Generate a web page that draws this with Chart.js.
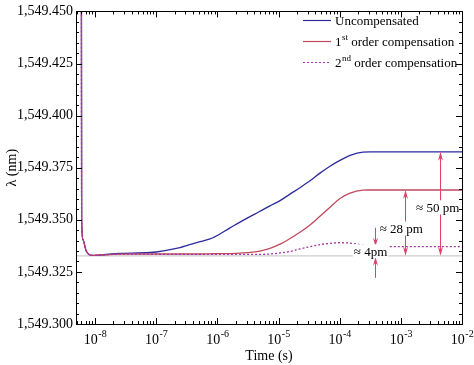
<!DOCTYPE html>
<html>
<head>
<meta charset="utf-8">
<script src="https://cdn.jsdelivr.net/npm/chart.js@4.4.1/dist/chart.umd.min.js"></script>
<style>
  html, body { margin: 0; padding: 0; background: #fff; }
  #wrap { width: 474px; height: 365px; }
</style>
</head>
<body>
<div id="wrap"><canvas id="chart" width="474" height="365"></canvas></div>
<script>
// time axis (s) shared by the three curves
const timeS = [5.9e-9, 6.05e-9, 6.37e-9, 7.13e-9, 8.93e-9, 1.21e-8, 2.57e-8, 7.93e-8, 2.45e-7, 5.21e-7,
  8.5e-7, 1.61e-6, 2.35e-6, 4.98e-6, 7.26e-6, 1.06e-5, 1.54e-5, 2.24e-5, 3.27e-5, 4.76e-5,
  6.95e-5, 1.01e-4, 1.48e-4, 2.4e-4, 3.13e-4, 1e-3, 1e-2];

const uncompensated = [1549.70, 1549.350, 1549.3404, 1549.3353, 1549.3329, 1549.3331, 1549.3339, 1549.3343, 1549.3367, 1549.3395,
  1549.3414, 1549.3461, 1549.3489, 1549.3541, 1549.3567, 1549.3592, 1549.3623, 1549.3654, 1549.3687, 1549.3724,
  1549.3757, 1549.3785, 1549.3809, 1549.3825, 1549.3826, 1549.3826, 1549.3826];

const firstOrder = [1549.70, 1549.350, 1549.3404, 1549.3353, 1549.3329, 1549.3331, 1549.3335, 1549.3336, 1549.3336, 1549.3336,
  1549.3337, 1549.3338, 1549.3340, 1549.3350, 1549.3363, 1549.3383, 1549.3410, 1549.3440, 1549.3475, 1549.3517,
  1549.3560, 1549.3602, 1549.3628, 1549.3642, 1549.3643, 1549.3643, 1549.3643];

const secondOrder = [1549.70, 1549.350, 1549.3404, 1549.3353, 1549.3329, 1549.3331, 1549.3335, 1549.3335, 1549.3334, 1549.3334,
  1549.3334, 1549.3334, 1549.3334, 1549.3334, 1549.3336, 1549.3341, 1549.3348, 1549.3360, 1549.3371, 1549.3381,
  1549.3387, 1549.3390, 1549.3388, 1549.3379, 1549.3374, 1549.3371, 1549.3371];

const baselineTime = [4.89e-9, 1e-2];
const baselineLambda = [1549.3327, 1549.3327];

const yTicks = [1549.300, 1549.325, 1549.350, 1549.375, 1549.400, 1549.425, 1549.450];
const xExponents = [-8, -7, -6, -5, -4, -3, -2];

const legendLabels = [
  { main: '', sup: '', rest: 'Uncompensated' },
  { main: '1', sup: 'st', rest: ' order compensation' },
  { main: '2', sup: 'nd', rest: ' order compensation' }
];

// difference markers drawn over the plot
const deltaMarks = [
  { t: 4.37e-3, top: 1549.3826, bottom: 1549.3327, text: '\u2248 50 pm', tx: 4.0e-3, ty: 1549.356 },
  { t: 1.17e-3, top: 1549.3643, bottom: 1549.3327, text: '\u2248 28 pm', tx: 1.02e-3, ty: 1549.3458 }
];

const SERIF = '"Liberation Serif", "DejaVu Serif", serif';
const ARROW = '#e0406a';

function toPoints(xs, ys) {
  return xs.map((x, i) => ({ x: x, y: ys[i] }));
}

function arrowHead(ctx, x, y, dir) {
  // dir = -1 points up, 1 points down
  ctx.beginPath();
  ctx.moveTo(x, y);
  ctx.lineTo(x - 2.5, y - dir * 9);
  ctx.lineTo(x, y - dir * 6);
  ctx.lineTo(x + 2.5, y - dir * 9);
  ctx.closePath();
  ctx.fill();
}

function labelBox(ctx, text, x, y) {
  ctx.font = '13px ' + SERIF;
  const w = ctx.measureText(text).width;
  ctx.fillStyle = '#fff';
  ctx.fillRect(x - w / 2 - 1, y - 7, w + 2, 14);
  ctx.fillStyle = '#000';
  ctx.textAlign = 'center';
  ctx.textBaseline = 'middle';
  ctx.fillText(text, x, y + 1);
}

const decorations = {
  id: 'decorations',
  afterDatasetsDraw(chart) {
    const ctx = chart.ctx;
    const area = chart.chartArea;
    const xs = chart.scales.x;
    const ys = chart.scales.y;
    ctx.save();

    // arrows
    ctx.strokeStyle = ARROW;
    ctx.fillStyle = ARROW;
    ctx.lineWidth = 1;
    deltaMarks.forEach(m => {
      const x = Math.round(xs.getPixelForValue(m.t)) + 0.5;
      const y1 = ys.getPixelForValue(m.top);
      const y2 = ys.getPixelForValue(m.bottom);
      ctx.beginPath();
      ctx.moveTo(x, y1 + 4);
      ctx.lineTo(x, y2 - 4);
      ctx.stroke();
      arrowHead(ctx, x, y1, -1);
      arrowHead(ctx, x, y2, 1);
    });
    // 4 pm arrows from outside
    const x4 = Math.round(xs.getPixelForValue(3.78e-4)) + 0.5;
    const yDot = ys.getPixelForValue(1549.3371);
    const yBase = ys.getPixelForValue(1549.3327);
    ctx.beginPath();
    ctx.moveTo(x4, yDot - 19);
    ctx.lineTo(x4, yDot - 4);
    ctx.moveTo(x4, yBase + 22);
    ctx.lineTo(x4, yBase + 4);
    ctx.stroke();
    arrowHead(ctx, x4, yDot, 1);
    arrowHead(ctx, x4, yBase + 1, -1);

    deltaMarks.forEach(m => {
      labelBox(ctx, m.text, xs.getPixelForValue(m.tx), ys.getPixelForValue(m.ty));
    });
    labelBox(ctx, '\u2248 4pm', xs.getPixelForValue(3.2e-4), ys.getPixelForValue(1549.3349));

    // frame
    ctx.strokeStyle = '#000';
    ctx.lineWidth = 1;
    ctx.strokeRect(Math.round(area.left) + 0.5, Math.round(area.top) + 0.5,
      Math.round(area.right - area.left), Math.round(area.bottom - area.top));

    // log ticks, pointing inward, top and bottom
    ctx.beginPath();
    for (let d = -9; d <= -3; d++) {
      for (let k = 1; k <= 9; k++) {
        const v = k * Math.pow(10, d);
        if (v < xs.min || v > xs.max) continue;
        const px = Math.round(xs.getPixelForValue(v)) + 0.5;
        const len = k === 1 ? 6 : 3;
        ctx.moveTo(px, area.bottom);
        ctx.lineTo(px, area.bottom - len);
        ctx.moveTo(px, area.top);
        ctx.lineTo(px, area.top + len);
      }
    }
    // y ticks every 0.005
    for (let i = 0; i <= 30; i++) {
      const v = 1549.300 + i * 0.005;
      const py = Math.round(ys.getPixelForValue(v)) + 0.5;
      const len = i % 5 === 0 ? 6 : 3;
      ctx.moveTo(area.left, py);
      ctx.lineTo(area.left + len, py);
      ctx.moveTo(area.right, py);
      ctx.lineTo(area.right - len, py);
    }
    ctx.stroke();

    // x tick labels 10^n
    ctx.fillStyle = '#000';
    ctx.textBaseline = 'alphabetic';
    ctx.textAlign = 'left';
    xExponents.forEach(e => {
      const px = xs.getPixelForValue(Math.pow(10, e));
      ctx.font = '14px ' + SERIF;
      const w1 = ctx.measureText('10').width;
      ctx.font = '10px ' + SERIF;
      const sup = '-' + Math.abs(e);
      const w2 = ctx.measureText(sup).width;
      const x0 = px - (w1 + w2) / 2;
      ctx.font = '14px ' + SERIF;
      ctx.fillText('10', x0, area.bottom + 20);
      ctx.font = '10px ' + SERIF;
      ctx.fillText(sup, x0 + w1 + 0.5, area.bottom + 13);
    });

    // legend
    const colors = chart.data.datasets.slice(0, 3).map(ds => ds.borderColor);
    const dashes = [[], [], [2, 2]];
    legendLabels.forEach((item, i) => {
      const y = 20 + i * 21;
      ctx.strokeStyle = colors[i];
      ctx.lineWidth = 1.2;
      ctx.setLineDash(dashes[i]);
      ctx.beginPath();
      ctx.moveTo(303, y + 0.5);
      ctx.lineTo(331, y + 0.5);
      ctx.stroke();
      ctx.setLineDash([]);
      ctx.fillStyle = '#000';
      let x = 335;
      ctx.font = '13px ' + SERIF;
      ctx.fillText(item.main, x, y + 5);
      x += ctx.measureText(item.main).width;
      ctx.font = '9px ' + SERIF;
      ctx.fillText(item.sup, x + 0.5, y - 1);
      x += ctx.measureText(item.sup).width + (item.sup ? 0.5 : 0);
      ctx.font = '13px ' + SERIF;
      ctx.fillText(item.rest, x, y + 5);
    });

    ctx.restore();
  }
};

const ctx = document.getElementById('chart');
new Chart(ctx, {
  type: 'line',
  data: {
    datasets: [
      {
        label: 'Uncompensated',
        data: toPoints(timeS, uncompensated),
        borderColor: '#2b2b9c',
        borderWidth: 1.3,
        order: 3
      },
      {
        label: '1st order compensation',
        data: toPoints(timeS, firstOrder),
        borderColor: '#c04a5c',
        borderWidth: 1.3,
        order: 2
      },
      {
        label: '2nd order compensation',
        data: toPoints(timeS, secondOrder),
        borderColor: '#a634a8',
        borderWidth: 1.3,
        borderDash: [2, 2],
        order: 1
      },
      {
        label: 'baseline',
        data: toPoints(baselineTime, baselineLambda),
        borderColor: '#cdcdcd',
        borderWidth: 1.2,
        cubicInterpolationMode: 'default',
        tension: 0,
        order: 4
      }
    ]
  },
  options: {
    responsive: false,
    animation: false,
    devicePixelRatio: 1,
    layout: { padding: { top: 5, right: 12, bottom: 0, left: 0 } },
    elements: {
      point: { radius: 0 },
      line: { cubicInterpolationMode: 'monotone', fill: false }
    },
    plugins: {
      legend: { display: false },
      tooltip: { enabled: false }
    },
    scales: {
      x: {
        type: 'logarithmic',
        min: 4.89e-9,
        max: 1e-2,
        grid: { display: false, drawTicks: false },
        border: { display: false },
        ticks: { display: false },
        title: {
          display: true,
          text: 'Time (s)',
          color: '#000',
          font: { family: SERIF, size: 14 },
          padding: { top: 0, bottom: 0 }
        },
        afterFit(scale) { scale.height = 41; }
      },
      y: {
        min: 1549.300,
        max: 1549.450,
        grid: { display: false, drawTicks: false },
        border: { display: false },
        afterBuildTicks(scale) {
          scale.ticks = yTicks.map(v => ({ value: v }));
        },
        ticks: {
          color: '#000',
          padding: 3,
          font: { family: SERIF, size: 14 },
          callback: v => v.toLocaleString('en-US', { minimumFractionDigits: 3, maximumFractionDigits: 3 })
        },
        title: {
          display: true,
          text: '\u03bb (nm)',
          color: '#000',
          font: { family: SERIF, size: 14 },
          padding: { top: 4, bottom: 0 }
        },
        afterFit(scale) { scale.width = 76; }
      }
    }
  },
  plugins: [decorations]
});
</script>
</body>
</html>
